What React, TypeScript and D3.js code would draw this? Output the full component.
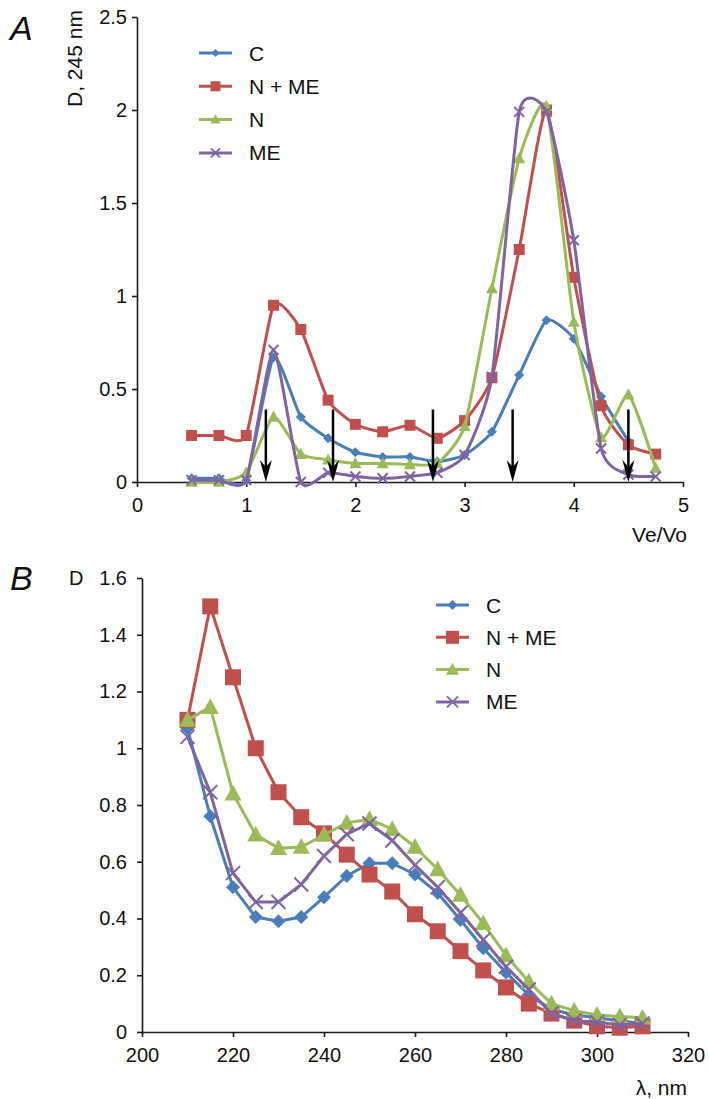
import React, { useEffect, useRef } from 'react';
import * as d3 from 'd3';

// panel A: elution profile, Ve/Vo
const aVeVo = [0.5, 0.75, 1.0, 1.25, 1.5, 1.75, 2.0, 2.25, 2.5, 2.75, 3.0, 3.25, 3.5, 3.75, 4.0, 4.25, 4.5, 4.75];
const aC = [0.02, 0.02, 0.01, 0.67, 0.35, 0.235, 0.16, 0.135, 0.135, 0.11, 0.145, 0.27, 0.575, 0.87, 0.77, 0.46, 0.22, null];
const aNME = [0.25, 0.25, 0.25, 0.95, 0.82, 0.44, 0.31, 0.27, 0.305, 0.235, 0.33, 0.56, 1.25, 2.0, 1.1, 0.41, 0.2, 0.15];
const aN = [0.0, 0.0, 0.05, 0.35, 0.15, 0.12, 0.1, 0.1, 0.095, 0.1, 0.3, 1.04, 1.74, 2.02, 0.86, 0.24, 0.47, 0.075];
const aME = [0.01, 0.01, 0.01, 0.71, 0.0, 0.05, 0.03, 0.02, 0.03, 0.05, 0.145, 0.565, 1.99, 1.99, 1.3, 0.18, 0.04, 0.03];
const aArrows = [1.18, 1.795, 2.71, 3.44, 4.5];
const aXTicks = [0, 1, 2, 3, 4, 5];
const aYTicks = [0, 0.5, 1, 1.5, 2, 2.5];

// panel B: absorption spectra
const bLambda = [210, 215, 220, 225, 230, 235, 240, 245, 250, 255, 260, 265, 270, 275, 280, 285, 290, 295, 300, 305, 310];
const bC = [1.07, 0.76, 0.51, 0.405, 0.39, 0.405, 0.475, 0.55, 0.595, 0.595, 0.555, 0.49, 0.395, 0.295, 0.21, 0.13, 0.08, 0.06, 0.05, 0.04, 0.03];
const bNME = [1.1, 1.5, 1.25, 1.0, 0.845, 0.757, 0.7, 0.625, 0.555, 0.495, 0.415, 0.355, 0.285, 0.217, 0.157, 0.1, 0.065, 0.04, 0.02, 0.015, 0.02];
const bN = [1.1, 1.145, 0.84, 0.695, 0.648, 0.652, 0.695, 0.737, 0.75, 0.715, 0.652, 0.573, 0.483, 0.383, 0.27, 0.177, 0.1, 0.075, 0.06, 0.055, 0.05];
const bME = [1.04, 0.845, 0.56, 0.458, 0.458, 0.52, 0.62, 0.697, 0.735, 0.675, 0.588, 0.51, 0.42, 0.325, 0.23, 0.15, 0.065, 0.04, 0.035, 0.025, 0.03];
const bXTicks = [200, 220, 240, 260, 280, 300, 320];
const bYTicks = [0, 0.2, 0.4, 0.6, 0.8, 1, 1.2, 1.4, 1.6];

const names = ['C', 'N + ME', 'N', 'ME'];
const colors = ['#4a7ebb', '#c0504d', '#9bbb59', '#8064a2'];
const shapes = ['diamond', 'square', 'triangle', 'x'];

const FONT = '"Liberation Sans", Arial, Helvetica, sans-serif';

function markerPath(type: string, s: number) {
  const h = s / 2;
  if (type === 'diamond') return `M0,${-h}L${h},0L0,${h}L${-h},0Z`;
  if (type === 'square') return `M${-h},${-h}H${h}V${h}H${-h}Z`;
  if (type === 'triangle') return `M0,${-h * 1.05}L${h},${h * 0.8}L${-h},${h * 0.8}Z`;
  return `M${-h},${-h}L${h},${h}M${h},${-h}L${-h},${h}`;
}

function Marker({ type, x, y, size, color }: any) {
  const d = markerPath(type, size);
  if (type === 'x') return <path d={d} transform={`translate(${x},${y})`} stroke={color} strokeWidth={2} fill="none" />;
  return <path d={d} transform={`translate(${x},${y})`} fill={color} />;
}

function Axis({ scale, orient, ticks, x, y, pad, fontSize }: any) {
  const ref = useRef<SVGGElement>(null);
  useEffect(() => {
    const ax = (orient === 'left' ? d3.axisLeft(scale) : d3.axisBottom(scale))
      .tickValues(ticks).tickSizeInner(5).tickSizeOuter(0).tickPadding(pad)
      .tickFormat(d3.format('~g') as any);
    const g = d3.select(ref.current);
    g.call(ax as any);
    g.attr('font-family', FONT).attr('font-size', fontSize);
    g.select('.domain').attr('stroke', '#1a1a1a').attr('stroke-width', 1.6);
    g.selectAll('.tick line').attr('stroke', '#1a1a1a').attr('stroke-width', 1.6);
    g.selectAll('.tick text').attr('fill', '#111');
  }, [scale, orient, ticks, pad, fontSize]);
  return <g ref={ref} transform={`translate(${x},${y})`} />;
}

function Legend({ x, y, gap, len, fontSize, sizes }: any) {
  return (
    <g>
      {names.map((n, i) => (
        <g key={n} transform={`translate(${x},${y + i * gap})`}>
          <line x1={0} x2={len} y1={0} y2={0} stroke={colors[i]} strokeWidth={3} />
          <Marker type={shapes[i]} x={len / 2} y={0} size={sizes[i]} color={colors[i]} />
          <text x={len + 17} y={fontSize * 0.36} fontSize={fontSize} fontFamily={FONT} fill="#111">{n}</text>
        </g>
      ))}
    </g>
  );
}

export default function App() {
  // panel A scales
  const xA = d3.scaleLinear().domain([0, 5]).range([137, 683]);
  const yA = d3.scaleLinear().domain([0, 2.5]).range([482, 17]);
  // panel B scales
  const xB = d3.scaleLinear().domain([200, 320]).range([142, 688]);
  const yB = d3.scaleLinear().domain([0, 1.6]).range([1032, 578]);

  const seriesA = [aC, aNME, aN, aME];
  const seriesB = [bC, bNME, bN, bME];
  const sizesA = [10, 11, 12, 10];
  const sizesB = [14, 16, 17, 14];

  // smoothed lines like the spreadsheet's "smooth line" option
  const lineA = d3.line<any>()
    .defined(d => d[1] != null)
    .x(d => xA(d[0])).y(d => yA(d[1]))
    .curve(d3.curveCardinal.tension(0.45));
  const lineB = d3.line<any>()
    .x(d => xB(d[0])).y(d => yB(d[1]));

  return (
    <svg width={709} height={1099} style={{ position: 'absolute', left: 0, top: 0, background: '#fff' }}>
      {/* ---------- panel A ---------- */}
      <text x={10} y={40} fontSize={34} fontStyle="italic" fontFamily={FONT} fill="#111">A</text>
      <text transform="translate(82,107) rotate(-90)" fontSize={21} fontFamily={FONT} fill="#111">D, 245 nm</text>
      <Axis scale={yA} orient="left" ticks={aYTicks} x={137} y={0} pad={5} fontSize={20} />
      <Axis scale={xA} orient="bottom" ticks={aXTicks} x={0} y={482} pad={11} fontSize={20} />
      <text x={687} y={542} textAnchor="end" fontSize={21} fontFamily={FONT} fill="#111">Ve/Vo</text>
      {seriesA.map((s, i) => {
        const pts = aVeVo.map((v, j) => [v, s[j]]);
        return (
          <g key={i}>
            <path d={lineA(pts) || ''} fill="none" stroke={colors[i]} strokeWidth={3} />
            {pts.filter(p => p[1] != null).map((p, j) => (
              <Marker key={j} type={shapes[i]} x={xA(p[0] as number)} y={yA(p[1] as number)} size={sizesA[i]} color={colors[i]} />
            ))}
          </g>
        );
      })}
      {aArrows.map((v, i) => (
        <g key={i}>
          <line x1={xA(v)} x2={xA(v)} y1={yA(0.39)} y2={yA(0) - 14} stroke="#000" strokeWidth={2.5} />
          <path d={`M${xA(v) - 6},${yA(0) - 22}L${xA(v)},${yA(0) - 15}L${xA(v) + 6},${yA(0) - 22}L${xA(v)},${yA(0)}Z`} fill="#000" />
        </g>
      ))}
      <Legend x={199} y={53} gap={33.3} len={33} fontSize={21} sizes={[8, 10, 10, 9]} />

      {/* ---------- panel B ---------- */}
      <text x={10} y={590} fontSize={34} fontStyle="italic" fontFamily={FONT} fill="#111">B</text>
      <text x={69} y={585} fontSize={20} fontFamily={FONT} fill="#111">D</text>
      <Axis scale={yB} orient="left" ticks={bYTicks} x={142} y={0} pad={10} fontSize={20} />
      <Axis scale={xB} orient="bottom" ticks={bXTicks} x={0} y={1032} pad={11} fontSize={20} />
      <text x={687} y={1095} textAnchor="end" fontSize={21} fontFamily={FONT} fill="#111">λ, nm</text>
      {seriesB.map((s, i) => {
        const pts = bLambda.map((v, j) => [v, s[j]]);
        return (
          <g key={i}>
            <path d={lineB(pts) || ''} fill="none" stroke={colors[i]} strokeWidth={3} />
            {pts.map((p, j) => (
              <Marker key={j} type={shapes[i]} x={xB(p[0])} y={yB(p[1])} size={sizesB[i]} color={colors[i]} />
            ))}
          </g>
        );
      })}
      <Legend x={436} y={605} gap={32.3} len={33} fontSize={21} sizes={[10, 13, 13, 11]} />
    </svg>
  );
}
